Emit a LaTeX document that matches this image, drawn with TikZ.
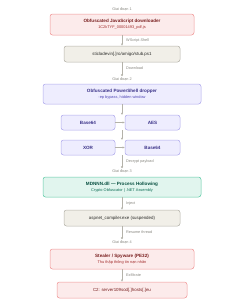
\documentclass[tikz,border=0pt]{standalone}
\usepackage{fontspec}
\setmainfont{Liberation Sans}
\usetikzlibrary{arrows.meta}
\definecolor{redfill}{HTML}{FCEBEB}
\definecolor{redline}{HTML}{F09595}
\definecolor{redtitle}{HTML}{791F1F}
\definecolor{redsub}{HTML}{A32D2D}
\definecolor{grayfill}{HTML}{F1EFE8}
\definecolor{grayline}{HTML}{B4B2A9}
\definecolor{graytext}{HTML}{2C2C2A}
\definecolor{labeltext}{HTML}{888780}
\definecolor{purfill}{HTML}{EEEDFE}
\definecolor{purline}{HTML}{AFA9EC}
\definecolor{purtitle}{HTML}{3C3489}
\definecolor{pursub}{HTML}{534AB7}
\definecolor{grnfill}{HTML}{E1F5EE}
\definecolor{grnline}{HTML}{5DCAA5}
\definecolor{grntitle}{HTML}{085041}
\definecolor{grnsub}{HTML}{0F6E56}
\newcommand{\ttl}[1]{{\fontsize{4.6}{5.6}\selectfont\bfseries #1}}
\newcommand{\sub}[1]{{\fontsize{3.9}{5}\selectfont #1}}

\begin{document}
\begin{tikzpicture}[
  x=1pt, y=-1pt,
  box/.style={draw, rounded corners=2.5pt, line width=0.5pt, align=center, inner sep=0pt,
    font=\fontsize{4.4}{6.2}\selectfont},
  redbox/.style={box, fill=redfill, draw=redline, text=redtitle},
  graybox/.style={box, fill=grayfill, draw=grayline, text=graytext},
  purbox/.style={box, fill=purfill, draw=purline, text=purtitle},
  grnbox/.style={box, fill=grnfill, draw=grnline, text=grntitle},
  stage/.style={text=labeltext, font=\fontsize{3.8}{4.6}\selectfont, inner sep=0.5pt},
  elabel/.style={text=labeltext, font=\fontsize{3.8}{4.6}\selectfont, anchor=west, inner sep=0pt},
  flow/.style={draw=grayline, line width=0.6pt, -{Latex[length=2.2pt,width=2.4pt]}},
]
\useasboundingbox (0,0) rectangle (244,300);

% Giai doan 1: downloader
\node[stage] (s1) at (122, 9) {Giai đoạn 1};
\node[redbox, minimum width=144, minimum height=21] (js) at (122, 24.5)
  {\ttl{Obfuscated JavaScript downloader}\\\textcolor{redsub}{\sub{1C2kTYF\_00001493\_pdf.js}}};
\node[graybox, minimum width=116, minimum height=16] (url) at (122, 54) {sticladevin[.]ro/amigo/stub.ps1};
\draw[flow] (js) -- (url);
\node[elabel] at (126, 41) {WScript.Shell};

% Giai doan 2: dropper
\node[stage] (s2) at (122, 79) {Giai đoạn 2};
\draw[flow] (url) -- (s2);
\node[elabel] at (126, 68.5) {Download};
\node[purbox, minimum width=158, minimum height=20] (ps) at (122, 94)
  {\ttl{Obfuscated PowerShell dropper}\\\textcolor{pursub}{\sub{-ep bypass, hidden window}}};

\node[purbox, minimum width=54, minimum height=15] (b64a) at (88, 122.5) {\ttl{Base64}};
\node[purbox, minimum width=55, minimum height=15] (aes) at (152.5, 122.5) {\ttl{AES}};
\node[purbox, minimum width=54, minimum height=15] (xor) at (88, 147.5) {\ttl{XOR}};
\node[purbox, minimum width=55, minimum height=15] (b64b) at (152.5, 147.5) {\ttl{Base64}};
\coordinate (r1top) at (122, 115);
\coordinate (r1bot) at (122, 130);
\coordinate (r2top) at (122, 140);
\coordinate (r2bot) at (122, 155);
\draw[flow] (ps) -- (r1top);
\draw[flow] (b64a) -- (aes);
\draw[flow] (r1bot) -- (r2top);
\draw[flow] (xor) -- (b64b);

% Giai doan 3: process hollowing
\node[stage] (s3) at (122, 171) {Giai đoạn 3};
\draw[flow] (r2bot) -- (s3);
\node[elabel] at (126, 162) {Decrypt payload};
\node[grnbox, minimum width=158, minimum height=20] (dll) at (122, 187)
  {\ttl{MDNNN.dll — Process Hollowing}\\\textcolor{grnsub}{\sub{Crypto Obfuscator | .NET Assembly}}};
\node[graybox, minimum width=116, minimum height=16] (asp) at (122, 218) {aspnet\_compiler.exe (suspended)};
\draw[flow] (dll) -- (asp);
\node[elabel] at (126, 204) {Inject};

% Giai doan 4: stealer
\node[stage] (s4) at (122, 242) {Giai đoạn 4};
\draw[flow] (asp) -- (s4);
\node[elabel] at (126, 232.5) {Resume thread};
\node[redbox, minimum width=144, minimum height=20] (stl) at (122, 259)
  {\ttl{Stealer / Spyware (PE32)}\\\textcolor{redsub}{\sub{Thu thập thông tin nạn nhân}}};
\node[redbox, minimum width=130, minimum height=16] (c2) at (122, 290)
  {C2: server109sod[.]hosts[.]eu};
\draw[flow] (stl) -- (c2);
\node[elabel] at (126, 275) {Exfiltrate};
\end{tikzpicture}
\end{document}
